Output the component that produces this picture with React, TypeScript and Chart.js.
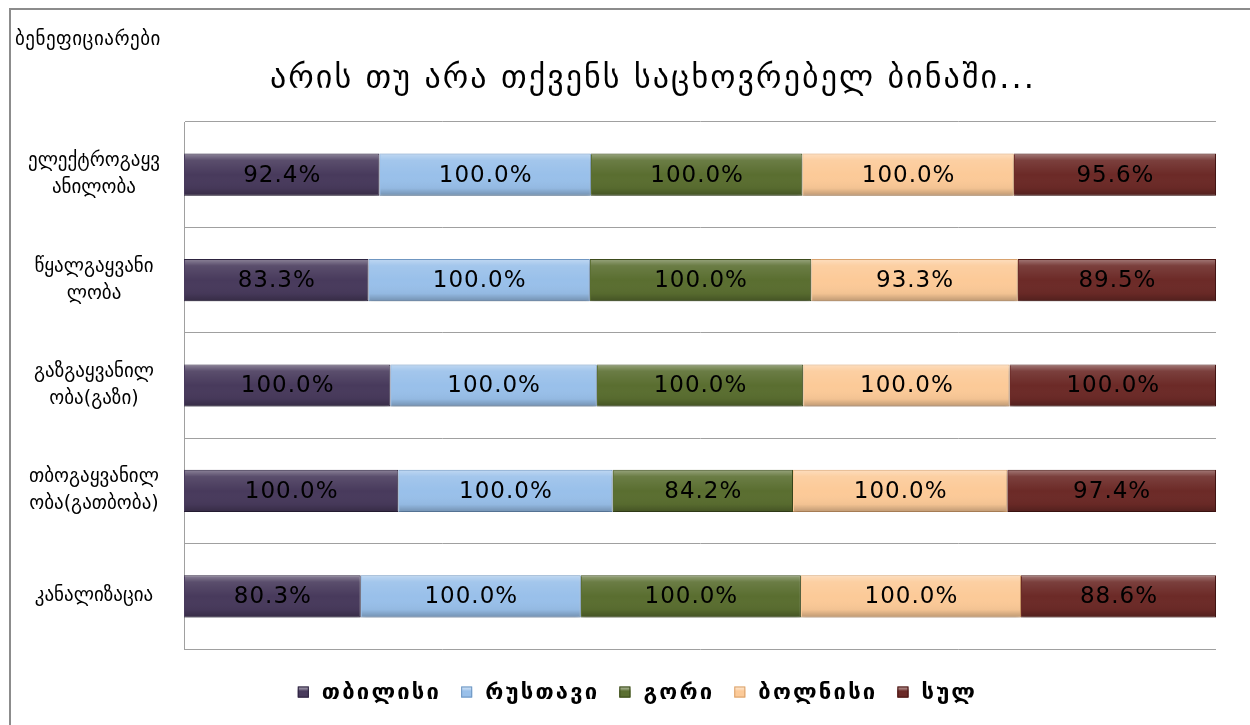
import { useEffect, useRef } from "react";
import { Chart, registerables } from "chart.js";
Chart.register(...registerables);

const categories: (string | string[])[] = [
  ["ელექტროგაყვ", "ანილობა"],
  ["წყალგაყვანი", "ლობა"],
  ["გაზგაყვანილ", "ობა(გაზი)"],
  ["თბოგაყვანილ", "ობა(გათბობა)"],
  "კანალიზაცია",
];
const seriesNames = ["თბილისი", "რუსთავი", "გორი", "ბოლნისი", "სულ"];
const tbilisi = [92.4, 83.3, 100.0, 100.0, 80.3];
const rustavi = [100.0, 100.0, 100.0, 100.0, 100.0];
const gori = [100.0, 100.0, 100.0, 84.2, 100.0];
const bolnisi = [100.0, 93.3, 100.0, 100.0, 100.0];
const total = [95.6, 89.5, 100.0, 97.4, 88.6];
const seriesValues = [tbilisi, rustavi, gori, bolnisi, total];
const colors = ["#483a5c", "#99c0ea", "#5a6e30", "#fcca98", "#6c2a27"];
const borderColors = ["#2e2440", "#7097c2", "#3d4c1d", "#d9a36f", "#4a1715"];
const titleText = "არის თუ არა თქვენს საცხოვრებელ ბინაში...";
const axisTitle = "ბენეფიციარები";

const GEO = "'DejaVu Sans', sans-serif";

export default function App() {
  const ref = useRef<HTMLCanvasElement>(null);
  useEffect(() => {
    if (!ref.current) return;
    const sums = categories.map((_, i) =>
      seriesValues.reduce((s, arr) => s + arr[i], 0)
    );
    const datasets = seriesValues.map((arr, k) => ({
      label: seriesNames[k],
      data: arr.map((v, i) => (v / sums[i]) * 100),
      backgroundColor: colors[k],
      borderColor: borderColors[k],
      borderWidth: 1,
      categoryPercentage: 1,
      barPercentage: 0.4,
    }));

    const decor = {
      id: "decor",
      beforeDatasetsDraw(chart: any) {
        const ctx = chart.ctx;
        ctx.save();
        ctx.shadowColor = "rgba(0,0,0,0.28)";
        ctx.shadowBlur = 5;
        ctx.shadowOffsetY = 4;
      },
      afterDatasetsDraw(chart: any) {
        const ctx = chart.ctx;
        ctx.restore();
        ctx.save();
        chart.getSortedVisibleDatasetMetas().forEach((meta: any) => {
          meta.data.forEach((el: any, i: number) => {
            const { x, y, base, height } = el.getProps(["x", "y", "base", "height"], true);
            const left = Math.min(x, base);
            const w = Math.abs(x - base);
            const top = y - height / 2;
            const g = ctx.createLinearGradient(0, top, 0, top + height);
            g.addColorStop(0, "rgba(255,255,255,0.38)");
            g.addColorStop(0.16, "rgba(255,255,255,0.1)");
            g.addColorStop(0.5, "rgba(255,255,255,0)");
            g.addColorStop(0.82, "rgba(0,0,0,0.04)");
            g.addColorStop(1, "rgba(0,0,0,0.25)");
            ctx.fillStyle = g;
            ctx.fillRect(left + 1, top + 1, w - 2, height - 2);
            const raw = seriesValues[meta.index][i];
            ctx.fillStyle = "#000";
            ctx.font = "23px " + GEO;
            ctx.letterSpacing = "1px";
            ctx.textAlign = "center";
            ctx.textBaseline = "middle";
            ctx.fillText(raw.toFixed(1) + "%", left + w / 2 + 0.5, y + 1);
          });
        });
        ctx.restore();
      },
      afterDraw(chart: any) {
        const ctx = chart.ctx;
        ctx.save();
        ctx.fillStyle = "#000";
        // axis title (top-left)
        ctx.font = "19px " + GEO;
        ctx.letterSpacing = "0.5px";
        ctx.textAlign = "left";
        ctx.textBaseline = "middle";
        ctx.fillText(axisTitle, 4, 30);
        // chart title
        ctx.font = "32px " + GEO;
        ctx.letterSpacing = "2.1px";
        ctx.textAlign = "center";
        ctx.fillText(titleText, 642, 70);
        // legend
        ctx.font = "bold 22px " + GEO;
        ctx.letterSpacing = "2.2px";
        ctx.textAlign = "left";
        const box = 11;
        const gapText = 13;
        const gapItem = 20;
        const widths = seriesNames.map((n) => ctx.measureText(n).width);
        const totalW =
          widths.reduce((s, w) => s + box + gapText + w, 0) +
          gapItem * (seriesNames.length - 1);
        let lx = 626.5 - totalW / 2;
        const ly = 682;
        seriesNames.forEach((n, k) => {
          const g = ctx.createLinearGradient(0, ly - box / 2, 0, ly + box / 2);
          g.addColorStop(0, "rgba(255,255,255,0.45)");
          g.addColorStop(0.4, colors[k]);
          g.addColorStop(1, colors[k]);
          ctx.fillStyle = colors[k];
          ctx.fillRect(lx, ly - box / 2, box, box);
          ctx.fillStyle = g;
          ctx.fillRect(lx, ly - box / 2, box, box);
          ctx.strokeStyle = borderColors[k];
          ctx.lineWidth = 1;
          ctx.strokeRect(lx + 0.5, ly - box / 2 + 0.5, box - 1, box - 1);
          ctx.fillStyle = "#000";
          ctx.fillText(n, lx + box + gapText, ly + 1);
          lx += box + gapText + widths[k] + gapItem;
        });
        ctx.restore();
      },
    };

    const chart = new Chart(ref.current, {
      type: "bar",
      data: { labels: categories, datasets },
      plugins: [decor],
      options: {
        indexAxis: "y",
        animation: false,
        responsive: false,
        layout: { padding: { left: 0, right: 34, top: 112, bottom: 76 } },
        scales: {
          x: {
            stacked: true,
            min: 0,
            max: 100,
            display: false,
          },
          y: {
            stacked: true,
            ticks: {
              color: "#000",
              font: { family: GEO, size: 19, lineHeight: 1.42 },
              crossAlign: "center",
              padding: 24,
            },
            grid: {
              display: true,
              color: "#a0a0a0",
              lineWidth: 1,
              drawTicks: false,
              offset: true,
            },
            border: { display: true, color: "#a0a0a0", width: 1 },
            afterFit: (s: any) => {
              s.width = 173;
            },
          },
        },
        plugins: {
          title: { display: false },
          legend: { display: false },
          tooltip: { enabled: false },
        },
      },
    });
    return () => chart.destroy();
  }, []);

  return (
    <div
      style={{
        position: "absolute",
        left: 0,
        top: 0,
        width: 1250,
        height: 725,
        overflow: "hidden",
        background: "#fff",
      }}
    >
      <div
        style={{
          position: "absolute",
          left: 9,
          top: 8,
          width: 1270,
          height: 740,
          border: "2px solid #8c8c8c",
        }}
      />
      <canvas
        ref={ref}
        width={1239}
        height={715}
        style={{ position: "absolute", left: 11, top: 10, width: 1239, height: 715 }}
      />
    </div>
  );
}
